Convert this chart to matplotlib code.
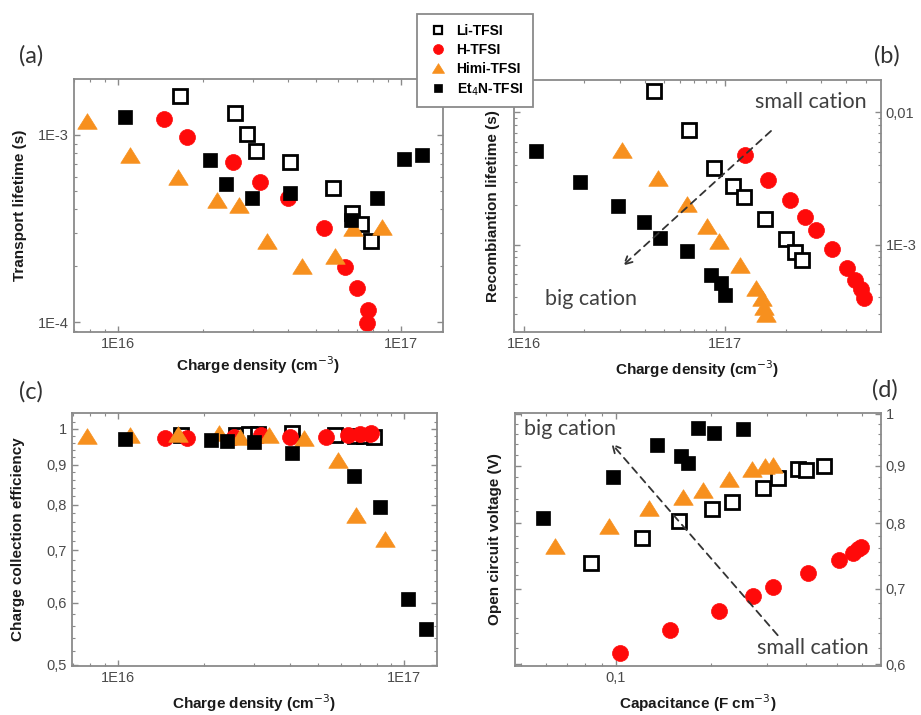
import matplotlib
matplotlib.use('Agg')
import matplotlib.pyplot as plt
from matplotlib.ticker import LogLocator, NullFormatter, FixedLocator
from matplotlib.lines import Line2D
import numpy as np

# ---------------- data ----------------
series_names = ['Li-TFSI', 'H-TFSI', 'Himi-TFSI', 'Et$_4$N-TFSI']

# Panel (a) & (c): charge density (cm^-3)
n_li = [1.66e16, 2.59e16, 2.87e16, 3.08e16, 4.06e16, 5.74e16, 6.71e16, 7.26e16, 7.83e16]
n_h = [1.46e16, 1.75e16, 2.55e16, 3.17e16, 4.0e16, 5.35e16, 6.36e16, 7.01e16, 7.64e16, 7.58e16]
n_himi = [7.8e15, 1.10e16, 1.63e16, 2.25e16, 2.68e16, 3.38e16, 4.47e16, 5.86e16, 6.77e16, 8.55e16]
n_et4n = [1.06e16, 2.11e16, 2.41e16, 2.98e16, 4.06e16, 6.68e16, 8.23e16, 1.03e17, 1.19e17]

# Panel (a): transport lifetime (s)
tau_tr_li = [1.62e-3, 1.31e-3, 1.01e-3, 8.2e-4, 7.2e-4, 5.2e-4, 3.85e-4, 3.34e-4, 2.72e-4]
tau_tr_h = [1.22e-3, 9.7e-4, 7.2e-4, 5.6e-4, 4.6e-4, 3.18e-4, 1.98e-4, 1.53e-4, 1.16e-4, 9.9e-5]
tau_tr_himi = [1.19e-3, 7.8e-4, 6.0e-4, 4.5e-4, 4.23e-4, 2.7e-4, 2.0e-4, 2.26e-4, 3.2e-4, 3.24e-4]
tau_tr_et4n = [1.25e-3, 7.35e-4, 5.5e-4, 4.6e-4, 4.9e-4, 3.52e-4, 4.6e-4, 7.4e-4, 7.8e-4]

# Panel (c): charge collection efficiency
eta_li = [0.981, 0.983, 0.986, 0.985, 0.988, 0.982, 0.980, 0.980, 0.978]
eta_h = [0.974, 0.974, 0.978, 0.983, 0.977, 0.977, 0.983, 0.986, 0.988, 0.986]
eta_himi = [0.979, 0.983, 0.986, 0.988, 0.977, 0.983, 0.974, 0.914, 0.777, 0.724]
eta_et4n = [0.971, 0.967, 0.966, 0.9625, 0.932, 0.872, 0.794, 0.607, 0.556]

# Panel (b): charge density (cm^-3) and recombination lifetime (s)
nb_li = [4.43e16, 6.6e16, 8.81e16, 1.10e17, 1.24e17, 1.58e17, 2.0e17, 2.22e17, 2.40e17]
tau_rec_li = [1.45e-2, 7.35e-3, 3.77e-3, 2.77e-3, 2.30e-3, 1.55e-3, 1.10e-3, 8.8e-4, 7.6e-4]
nb_h = [1.26e17, 1.64e17, 2.11e17, 2.49e17, 2.84e17, 3.39e17, 4.03e17, 4.43e17, 4.70e17, 4.88e17]
tau_rec_h = [4.75e-3, 3.1e-3, 2.19e-3, 1.62e-3, 1.30e-3, 9.2e-4, 6.6e-4, 5.4e-4, 4.64e-4, 3.94e-4]
nb_himi = [3.08e16, 4.64e16, 6.5e16, 8.13e16, 9.3e16, 1.18e17, 1.42e17, 1.52e17, 1.56e17, 1.60e17]
tau_rec_himi = [5.2e-3, 3.2e-3, 2.02e-3, 1.38e-3, 1.07e-3, 6.97e-4, 4.7e-4, 3.97e-4, 3.37e-4, 3.0e-4]
nb_et4n = [1.15e16, 1.91e16, 2.94e16, 3.97e16, 4.75e16, 6.5e16, 8.55e16, 9.55e16, 1.0e17]
tau_rec_et4n = [5.13e-3, 3.0e-3, 1.95e-3, 1.49e-3, 1.12e-3, 8.96e-4, 5.93e-4, 5.15e-4, 4.13e-4]

# Panel (d): capacitance (F cm^-3) and open circuit voltage (V)
c_li = [0.0834, 0.1209, 0.1579, 0.2008, 0.2328, 0.2912, 0.3249, 0.3757, 0.399, 0.456]
voc_li = [0.738, 0.776, 0.804, 0.824, 0.836, 0.859, 0.878, 0.893, 0.892, 0.899]
c_h = [0.1030, 0.1482, 0.2123, 0.2707, 0.3133, 0.4042, 0.5092, 0.561, 0.582, 0.596]
voc_h = [0.614, 0.644, 0.669, 0.690, 0.702, 0.723, 0.743, 0.753, 0.759, 0.763]
c_himi = [0.0641, 0.0950, 0.1275, 0.1633, 0.188, 0.2273, 0.2694, 0.297, 0.3133]
voc_himi = [0.764, 0.796, 0.826, 0.845, 0.856, 0.876, 0.893, 0.900, 0.902]
c_et4n = [0.0586, 0.0976, 0.1345, 0.1606, 0.1694, 0.1822, 0.2037, 0.2529]
voc_et4n = [0.809, 0.880, 0.939, 0.917, 0.904, 0.972, 0.962, 0.970]

# ---------------- style ----------------
RED = '#ff0a0a'
ORANGE = '#f7901e'
SPINE = '#8a8a8a'
TICKLBL = '#4a4a4a'
tri = [(0, 1), (-1.25, -1), (1.25, -1), (0, 1)]

styles = [
    dict(marker='s', ms=9.5, mfc='white', mec='black', mew=2.0, ls='none'),
    dict(marker='o', ms=11.5, mfc=RED, mec=RED, mew=0.5, ls='none'),
    dict(marker=tri, ms=14, mfc=ORANGE, mec=ORANGE, mew=0.5, ls='none'),
    dict(marker='s', ms=10, mfc='black', mec='black', mew=0.5, ls='none'),
]

LBL = dict(fontfamily='Liberation Sans', fontweight='bold', fontsize=11, color='#1a1a1a')
ANN = dict(fontfamily='Lato', fontsize=15.5, color='#404040')

W, H = 921, 715
fig = plt.figure(figsize=(W / 100, H / 100), dpi=100)


def px_axes(l, t, r, b):
    return fig.add_axes([l / W, 1 - b / H, (r - l) / W, (b - t) / H])


def style_axes(ax, right_labels=False):
    for s in ax.spines.values():
        s.set_color(SPINE)
        s.set_linewidth(1.3)
    ax.tick_params(which='both', direction='in', top=True, right=True,
                   color=SPINE, labelcolor=TICKLBL, labelsize=10.5)
    ax.tick_params(which='major', length=4.5, width=1.0)
    ax.tick_params(which='minor', length=2.5, width=0.8)
    if right_labels:
        ax.tick_params(which='both', labelleft=False, labelright=True)
    for lab in ax.get_xticklabels() + ax.get_yticklabels():
        lab.set_fontfamily('Liberation Sans')


def log_minor(axis):
    axis.set_minor_locator(LogLocator(base=10, subs=np.arange(2, 10), numticks=30))
    axis.set_minor_formatter(NullFormatter())


# ---- (a) ----
axa = px_axes(74, 79, 443, 332)
axa.set_xscale('log'); axa.set_yscale('log')
for x, y, st in zip([n_li, n_h, n_himi, n_et4n],
                    [tau_tr_li, tau_tr_h, tau_tr_himi, tau_tr_et4n], styles):
    axa.plot(x, y, **st)
axa.set_xlim(7.0e15, 1.41e17)
axa.set_ylim(8.87e-5, 1.99e-3)
axa.set_xticks([1e16, 1e17], labels=['1E16', '1E17'])
axa.set_yticks([1e-4, 1e-3], labels=['1E-4', '1E-3'])
log_minor(axa.xaxis); log_minor(axa.yaxis)
axa.set_xlabel('Charge density (cm$^{-3}$)', **LBL)
axa.set_ylabel('Transport lifetime (s)', **LBL)
axa.yaxis.set_label_coords(-0.127, 0.5)
axa.xaxis.set_label_coords(0.5, -0.087)
style_axes(axa)

# ---- (b) ----
axb = px_axes(514, 80, 881, 332)
axb.set_xscale('log'); axb.set_yscale('log')
for x, y, st in zip([nb_li, nb_h, nb_himi, nb_et4n],
                    [tau_rec_li, tau_rec_h, tau_rec_himi, tau_rec_et4n], styles):
    axb.plot(x, y, **st)
axb.set_xlim(8.96e15, 5.94e17)
axb.set_ylim(2.18e-4, 1.76e-2)
axb.set_xticks([1e16, 1e17], labels=['1E16', '1E17'])
axb.set_yticks([1e-3, 1e-2], labels=['1E-3', '0,01'])
log_minor(axb.xaxis); log_minor(axb.yaxis)
axb.set_xlabel('Charge density (cm$^{-3}$)', **LBL)
axb.set_ylabel('Recombiantion lifetime (s)', **LBL)
axb.yaxis.set_label_coords(-0.038, 0.5)
axb.xaxis.set_label_coords(0.5, -0.103)
style_axes(axb, right_labels=True)
axb.annotate('', xy=(3.03e16, 6.7e-4), xytext=(1.73e17, 7.48e-3),
             arrowprops=dict(arrowstyle='->', color='#333333', lw=1.3,
                             linestyle=(0, (4, 3)), mutation_scale=14))
axb.text(2.65e17, 1.2e-2, 'small cation', ha='center', va='center', **ANN)
axb.text(2.17e16, 3.9e-4, 'big cation', ha='center', va='center', **ANN)

# ---- (c) ----
axc = px_axes(72, 413, 437, 666)
axc.set_xscale('log'); axc.set_yscale('log')
for x, y, st in zip([n_li, n_h, n_himi, n_et4n],
                    [eta_li, eta_h, eta_himi, eta_et4n], styles):
    axc.plot(x, y, **st)
axc.set_xlim(6.93e15, 1.30e17)
axc.set_ylim(0.498, 1.048)
axc.set_xticks([1e16, 1e17], labels=['1E16', '1E17'])
log_minor(axc.xaxis)
axc.set_yticks([0.5, 0.6, 0.7, 0.8, 0.9, 1.0], labels=['0,5', '0,6', '0,7', '0,8', '0,9', '1'])
axc.yaxis.set_minor_locator(FixedLocator(np.arange(0.52, 1.04, 0.02)))
axc.yaxis.set_minor_formatter(NullFormatter())
axc.set_xlabel('Charge density (cm$^{-3}$)', **LBL)
axc.set_ylabel('Charge collection efficiency', **LBL)
axc.yaxis.set_label_coords(-0.129, 0.5)
axc.xaxis.set_label_coords(0.5, -0.104)
style_axes(axc)

# ---- (d) ----
axd = px_axes(515, 413, 881, 666)
axd.set_xscale('log'); axd.set_yscale('log')
for x, y, st in zip([c_li, c_h, c_himi, c_et4n],
                    [voc_li, voc_h, voc_himi, voc_et4n], styles):
    axd.plot(x, y, **st)
axd.set_xlim(0.0479, 0.689)
axd.set_ylim(0.598, 1.002)
axd.set_xticks([0.1], labels=['0,1'])
log_minor(axd.xaxis)
axd.set_yticks([0.6, 0.7, 0.8, 0.9, 1.0], labels=['0,6', '0,7', '0,8', '0,9', '1'])
axd.yaxis.set_minor_locator(FixedLocator(np.arange(0.62, 1.0, 0.02)))
axd.yaxis.set_minor_formatter(NullFormatter())
axd.set_xlabel('Capacitance (F cm$^{-3}$)', **LBL)
axd.set_ylabel('Open circuit voltage (V)', **LBL)
axd.yaxis.set_label_coords(-0.0355, 0.5)
axd.xaxis.set_label_coords(0.5, -0.104)
style_axes(axd, right_labels=True)
axd.annotate('', xy=(0.0953, 0.946), xytext=(0.329, 0.634),
             arrowprops=dict(arrowstyle='->', color='#333333', lw=1.3,
                             linestyle=(0, (4, 3)), mutation_scale=14))
axd.text(0.0717, 0.970, 'big cation', ha='center', va='center', **ANN)
axd.text(0.4194, 0.621, 'small cation', ha='center', va='center', **ANN)

# ---- panel labels ----
PL = dict(fontfamily='Lato', fontsize=17, color='#333333', ha='center', va='center')
fig.text(31 / W, 1 - 56 / H, '(a)', **PL)
fig.text(887 / W, 1 - 56 / H, '(b)', **PL)
fig.text(31 / W, 1 - 392 / H, '(c)', **PL)
fig.text(885 / W, 1 - 390 / H, '(d)', **PL)

# ---- legend ----
handles = []
for st in styles:
    h = dict(st)
    h['ms'] = st['ms'] * 0.62
    if h['mfc'] == 'white':
        h['mew'] = 1.6
    handles.append(Line2D([], [], **h))
leg = fig.legend(handles, series_names, loc='upper left',
                 bbox_to_anchor=(417 / W, 1 - 14 / H), borderaxespad=0,
                 frameon=True, fancybox=False, framealpha=1, edgecolor=SPINE,
                 prop=dict(family='Liberation Sans', weight='bold', size=10),
                 handlelength=1.6, handletextpad=0.55, borderpad=0.7,
                 labelspacing=0.37)
leg.get_frame().set_linewidth(1.3)

fig.savefig('out.png', dpi=100, facecolor='white')
